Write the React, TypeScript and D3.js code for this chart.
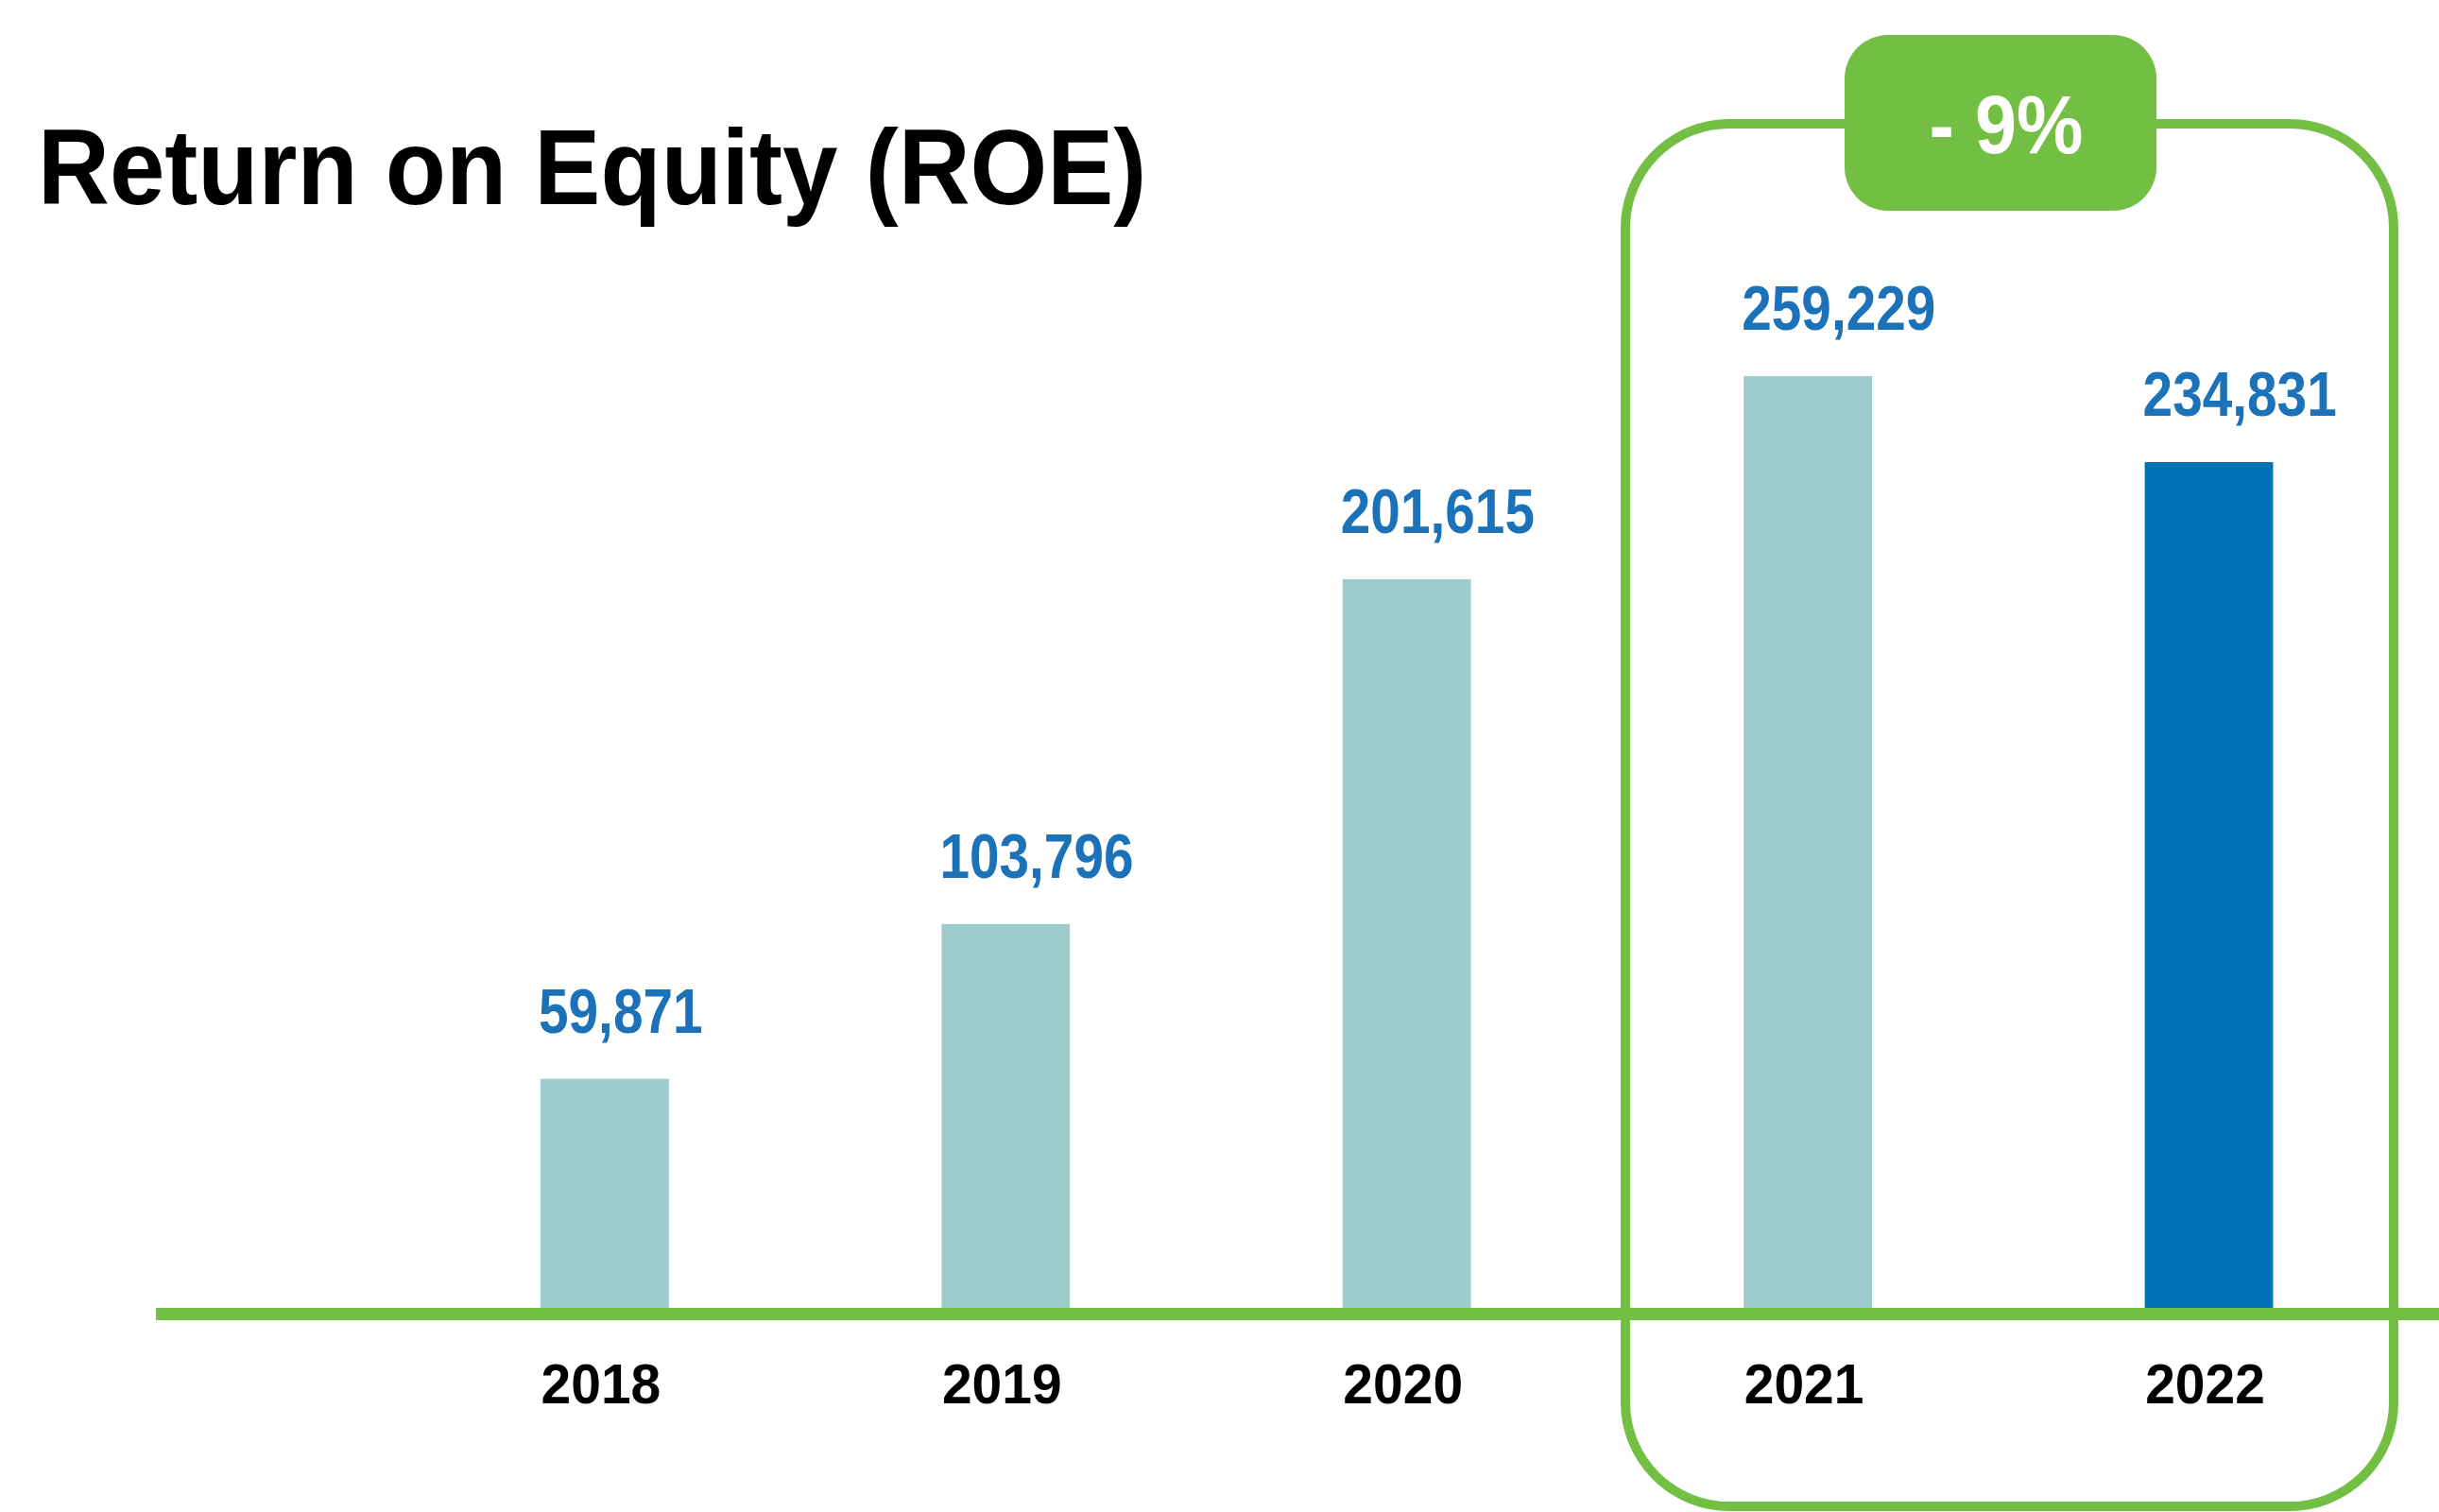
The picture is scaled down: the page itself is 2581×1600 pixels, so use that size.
import React from "react";
import * as d3 from "d3";

const years = ["2018", "2019", "2020", "2021", "2022"];
const values = [59871, 103796, 201615, 259229, 234831];
const highlightYear = "2022";
const title = "Return on Equity (ROE)";
const changeLabel = "- 9%";
const boxYears = ["2021", "2022"];

const W = 2581;
const H = 1600;
const GREEN = "#72bf44";
const TEAL = "#9ecbcc";
const BLUE = "#0070b9";
const LABEL_BLUE = "#1b72b8";
const FONT = "'Liberation Sans', Arial, Helvetica, sans-serif";

export default function App() {
  const x = d3
    .scaleBand<string>()
    .domain(years)
    .range([427.7, 2549.7])
    .paddingInner(0.68)
    .paddingOuter(0.34);

  const axisY = 1384;
  const y = d3.scaleLinear().domain([-5100, d3.max(values) as number]).range([axisY, 398]);

  const fmt = d3.format(",");
  const bw = x.bandwidth();

  // highlight box around last two years
  const boxLeft = 1720;
  const boxRight = 2533;
  const boxTop = 131;
  const boxBottom = 1594;
  const badgeX = 1952;
  const badgeW = 330;
  const badgeY = 37;
  const badgeH = 186;

  return (
    <svg
      width={W}
      height={H}
      viewBox={`0 0 ${W} ${H}`}
      style={{ position: "absolute", left: 0, top: 0, background: "#fff" }}
      fontFamily={FONT}
    >
      <rect x={0} y={0} width={W} height={H} fill="#fff" />
      <text
        transform="translate(40,216) scale(0.93,1)"
        fontSize={113}
        fontWeight="bold"
        fill="#000"
      >
        {title}
      </text>

      {/* bars */}
      {years.map((yr, i) => (
        <rect
          key={yr}
          x={x(yr)}
          y={y(values[i])}
          width={bw}
          height={y(-5100) - y(values[i])}
          fill={yr === highlightYear ? BLUE : TEAL}
        />
      ))}

      {/* value labels */}
      {years.map((yr, i) => (
        <text
          key={"v" + yr}
          transform={`translate(${(x(yr) as number) - 2},${y(values[i]) - 49}) scale(0.86,1)`}
          fontSize={66}
          fontWeight="bold"
          fill={LABEL_BLUE}
        >
          {fmt(values[i])}
        </text>
      ))}

      {/* axis line */}
      <line x1={165} x2={W} y1={axisY + 6.5} y2={axisY + 6.5} stroke={GREEN} strokeWidth={13} />

      {/* year labels */}
      {years.map((yr) => (
        <text
          key={"y" + yr}
          transform={`translate(${(x(yr) as number) + bw / 2 - 4},1485) scale(0.95,1)`}
          textAnchor="middle"
          fontSize={60}
          fontWeight="bold"
          fill="#000"
        >
          {yr}
        </text>
      ))}

      {/* highlight box */}
      <rect
        x={boxLeft}
        y={boxTop}
        width={boxRight - boxLeft}
        height={boxBottom - boxTop}
        rx={110}
        ry={110}
        fill="none"
        stroke={GREEN}
        strokeWidth={10}
        data-years={boxYears.join(",")}
      />
      <rect x={badgeX} y={badgeY} width={badgeW} height={badgeH} rx={46} ry={46} fill={GREEN} />
      <text
        transform={`translate(${badgeX + badgeW / 2 + 6},162) scale(0.9,1)`}
        textAnchor="middle"
        fontSize={88}
        fontWeight="bold"
        fill="#fff"
      >
        {changeLabel}
      </text>
    </svg>
  );
}
